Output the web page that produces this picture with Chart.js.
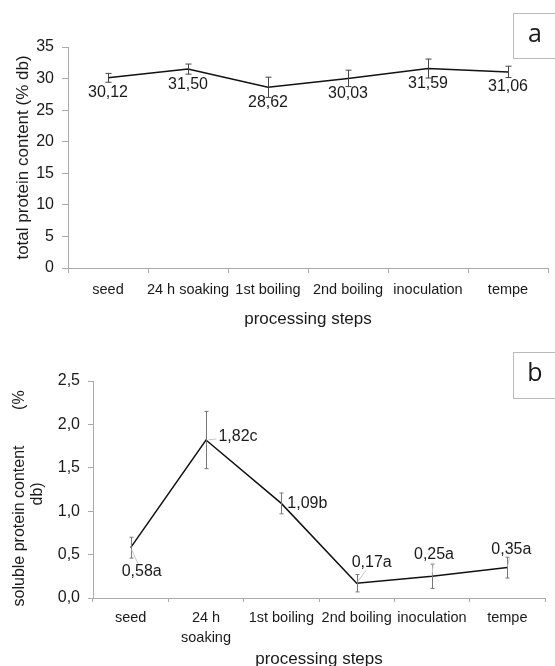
<!DOCTYPE html>
<html>
<head>
<meta charset="utf-8">
<script src="https://cdn.jsdelivr.net/npm/chart.js@4.4.0/dist/chart.umd.min.js"></script>
<style>
  html, body { margin: 0; padding: 0; background: #fff; overflow: hidden; }
  #wrapA { position: absolute; left: 0; top: 0; width: 555px; height: 330px; }
  #wrapB { position: absolute; left: 0; top: 330px; width: 555px; height: 336px; }
</style>
</head>
<body>
<div id="wrapA"><canvas id="chartA"></canvas></div>
<div id="wrapB"><canvas id="chartB"></canvas></div>
<script>
// data
const steps = ['seed', '24 h soaking', '1st boiling', '2nd boiling', 'inoculation', 'tempe'];
const stepsB = ['seed', ['24 h', 'soaking'], '1st boiling', '2nd boiling', 'inoculation', 'tempe'];
const totalProtein = [30.12, 31.50, 28.62, 30.03, 31.59, 31.06];
const totalProteinErr = [0.7, 0.8, 1.6, 1.3, 1.5, 0.9];
const solubleProtein = [0.58, 1.82, 1.09, 0.17, 0.25, 0.35];
const solubleProteinErr = [0.12, 0.33, 0.12, 0.10, 0.14, 0.12];
const solubleLetters = ['a', 'c', 'b', 'a', 'a', 'a'];

const comma = (v, d) => v.toFixed(d).replace('.', ',');
const TXT = '#1a1a1a';
const AXIS = '#aaa';
const SANS = "'Liberation Sans', Arial, sans-serif";

const errorBars = {
  id: 'errorBars',
  afterDatasetsDraw(chart, args, opts) {
    const ctx = chart.ctx, y = chart.scales.y;
    const vals = chart.data.datasets[0].data;
    ctx.save();
    ctx.strokeStyle = opts.color;
    ctx.lineWidth = 1;
    chart.getDatasetMeta(0).data.forEach((pt, i) => {
      const y1 = y.getPixelForValue(vals[i] + opts.errors[i]);
      const y2 = y.getPixelForValue(vals[i] - opts.errors[i]);
      const x = Math.round(pt.x) + 0.5;
      ctx.beginPath();
      ctx.moveTo(x, y1); ctx.lineTo(x, y2);
      ctx.moveTo(x - opts.cap, y1); ctx.lineTo(x + opts.cap, y1);
      ctx.moveTo(x - opts.cap, y2); ctx.lineTo(x + opts.cap, y2);
      ctx.stroke();
    });
    ctx.restore();
  }
};

// value labels next to the points, optional grey leader lines
const pointLabels = {
  id: 'pointLabels',
  afterDatasetsDraw(chart, args, opts) {
    const ctx = chart.ctx;
    ctx.save();
    ctx.font = opts.font;
    ctx.textAlign = 'center';
    ctx.textBaseline = 'middle';
    chart.getDatasetMeta(0).data.forEach((pt, i) => {
      const [dx, dy] = opts.offsets[i];
      const cx = pt.x + dx, cy = pt.y + dy;
      const text = opts.texts[i];
      if (opts.leader) {
        const hw = ctx.measureText(text).width / 2 + 2, hh = 8;
        const t = Math.min(dx ? hw / Math.abs(dx) : Infinity, dy ? hh / Math.abs(dy) : Infinity);
        if (t < 0.8) {
          ctx.strokeStyle = opts.leader;
          ctx.lineWidth = 1;
          ctx.beginPath();
          ctx.moveTo(pt.x + dx * 0.08, pt.y + dy * 0.08);
          ctx.lineTo(cx - dx * t, cy - dy * t);
          ctx.stroke();
        }
      }
      ctx.fillStyle = TXT;
      ctx.fillText(text, cx, cy);
    });
    ctx.restore();
  }
};

const panelTag = {
  id: 'panelTag',
  afterDraw(chart, args, opts) {
    const ctx = chart.ctx;
    ctx.save();
    ctx.strokeStyle = '#bbb';
    ctx.lineWidth = 1;
    ctx.strokeRect(opts.x + 0.5, opts.y + 0.5, 60, opts.h);
    ctx.fillStyle = TXT;
    ctx.font = "25px 'Open Sans', 'Noto Sans', sans-serif";
    ctx.textAlign = 'center';
    ctx.textBaseline = 'middle';
    ctx.fillText(opts.text, opts.x + 22, opts.y + opts.h / 2 - 1);
    ctx.restore();
  }
};

function makeChart(id, cfg) {
  return new Chart(document.getElementById(id), {
    type: 'line',
    data: {
      labels: cfg.labels,
      datasets: [{
        data: cfg.values,
        borderColor: '#111',
        borderWidth: 1.5,
        pointRadius: 0,
        tension: 0
      }]
    },
    plugins: [errorBars, pointLabels, panelTag],
    options: {
      responsive: true,
      maintainAspectRatio: false,
      animation: false,
      layout: { padding: cfg.padding },
      plugins: {
        legend: { display: false },
        tooltip: { enabled: false },
        errorBars: cfg.errorBars,
        pointLabels: cfg.pointLabels,
        panelTag: cfg.tag
      },
      scales: {
        x: {
          offset: true,
          grid: { offset: true, drawOnChartArea: false, tickLength: cfg.xTick, color: AXIS },
          border: { color: AXIS },
          ticks: { color: TXT, padding: cfg.xPad, maxRotation: 0, autoSkip: false,
                   font: { family: SANS, size: 14.5, lineHeight: 1.38 } },
          title: { display: true, text: 'processing steps', color: TXT,
                   font: { family: SANS, size: 17, lineHeight: cfg.xTitleLH }, padding: 0 },
          afterFit(s) { s.height = cfg.xHeight; }
        },
        y: {
          min: 0,
          max: cfg.max,
          grid: { drawOnChartArea: false, tickLength: cfg.yTick, color: AXIS },
          border: { color: AXIS },
          ticks: { stepSize: cfg.step, color: TXT, padding: cfg.yPad,
                   font: { family: SANS, size: 16 }, callback: cfg.yFmt },
          title: { display: true, text: cfg.yTitle, color: TXT,
                   font: { family: SANS, size: cfg.yTitleSize, lineHeight: 1.1 }, padding: { top: cfg.yTitlePad } },
          afterFit(s) { s.width = cfg.yWidth; }
        }
      }
    }
  });
}

makeChart('chartA', {
  labels: steps,
  values: totalProtein,
  max: 35, step: 5,
  yFmt: v => v,
  yTitle: 'total protein content (% db)',
  yTitleSize: 17,
  padding: { top: 47, right: 7, left: 0, bottom: 0 },
  yWidth: 68, yTick: 6, yPad: 8, yTitlePad: 14,
  xHeight: 62, xTick: 5, xPad: 7, xTitleLH: 1.2,
  errorBars: { errors: totalProteinErr, color: '#444', cap: 3 },
  pointLabels: {
    texts: totalProtein.map(v => comma(v, 2)),
    offsets: totalProtein.map(() => [0, 15]),
    font: '16px ' + SANS,
    leader: null
  },
  tag: { text: 'a', x: 513, y: 13, h: 45 }
});

makeChart('chartB', {
  labels: stepsB,
  values: solubleProtein,
  max: 2.5, step: 0.5,
  yFmt: v => comma(v, 1),
  yTitle: ['soluble protein content        (%    ', 'db)  '],
  yTitleSize: 16,
  padding: { top: 51, right: 10, left: 0, bottom: 0 },
  yWidth: 93, yTick: 5, yPad: 8, yTitlePad: 11,
  xHeight: 68, xTick: 4, xPad: 6, xTitleLH: 0.8,
  errorBars: { errors: solubleProteinErr, color: '#777', cap: 2 },
  pointLabels: {
    texts: solubleProtein.map((v, i) => comma(v, 2) + solubleLetters[i]),
    offsets: [[11, 24], [32, -3], [26, 0], [15, -21], [2, -22], [4, -18]],
    font: '16px ' + SANS,
    leader: '#c8c8c8'
  },
  tag: { text: 'b', x: 513, y: 22, h: 46 }
});
</script>
</body>
</html>
